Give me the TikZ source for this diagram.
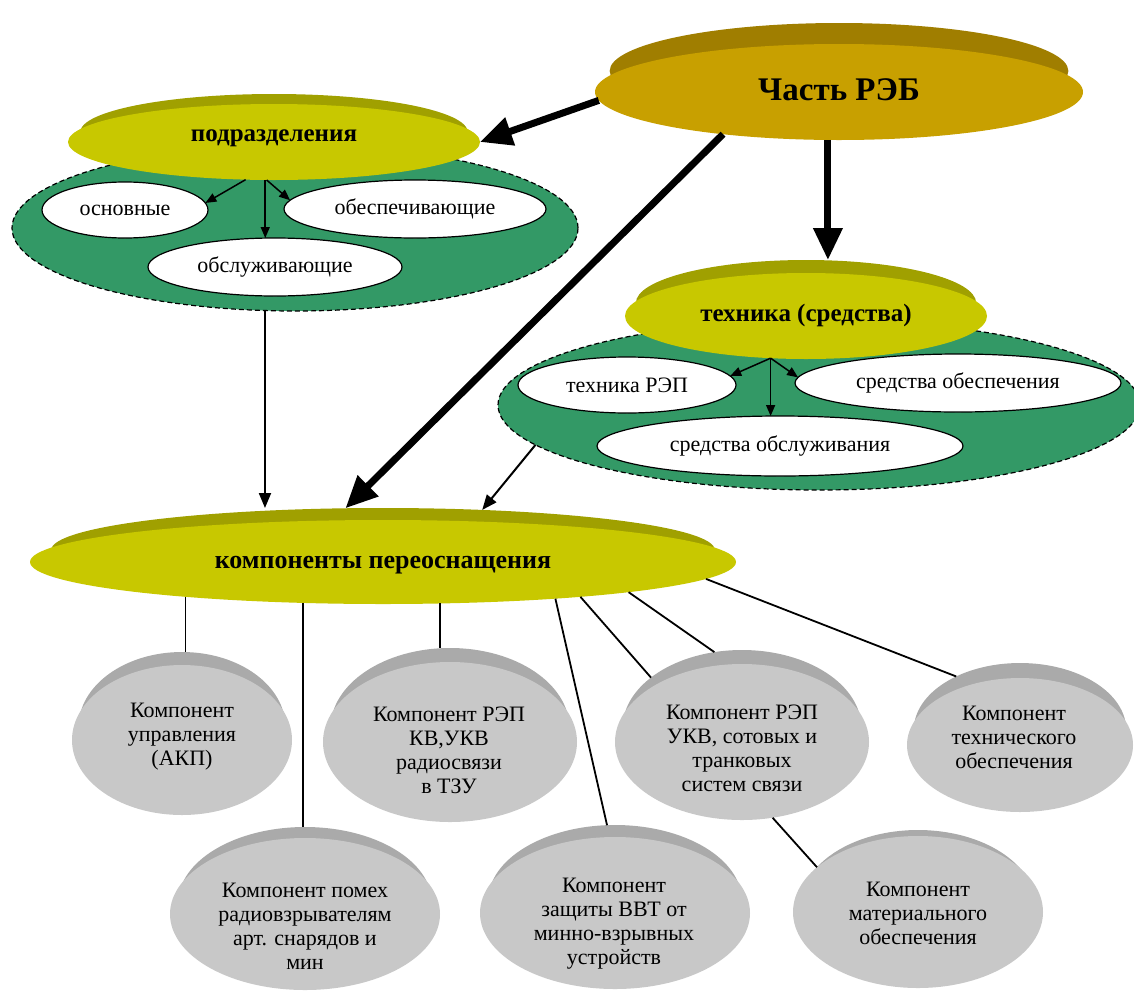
\documentclass[tikz,border=0pt]{standalone}
\usepackage{fontspec}
\setmainfont{Liberation Serif}
\usetikzlibrary{shapes.geometric,arrows.meta}
\definecolor{gold}{RGB}{200,160,0}
\definecolor{golddark}{RGB}{160,126,0}
\definecolor{ylw}{RGB}{200,200,0}
\definecolor{ylwdark}{RGB}{160,160,0}
\definecolor{grn}{RGB}{51,153,102}
\definecolor{gry}{RGB}{200,200,200}
\definecolor{grydark}{RGB}{170,170,170}
\tikzset{
 ell/.style={ellipse, inner sep=0pt, outer sep=0pt},
 whiteell/.style={ell, draw=black, line width=1.2pt, fill=white, font=\fontsize{22}{26}\selectfont},
 greenell/.style={ell, draw=black, dashed, dash pattern=on 5pt off 3pt, line width=1.2pt, fill=grn},
 bigtxt/.style={font=\fontsize{33}{40}\selectfont\bfseries},
 midtxt/.style={font=\fontsize{25}{30}\selectfont\bfseries},
 komptxt/.style={font=\fontsize{26}{30}\selectfont\bfseries},
 grytxt/.style={font=\fontsize{22}{24}\selectfont, align=center, inner sep=0pt},
 bigarrow/.style={line width=7pt, -{Triangle[length=32pt,width=28pt]}},
 thinarrow/.style={line width=2pt, -{Triangle[length=15pt,width=12pt]}},
 innerarrow/.style={line width=1.5pt, -{Triangle[length=11pt,width=9pt]}},
 link/.style={line width=1.8pt},
}
% #1 name, #2 x, #3 y, #4 rx, #5 ry, #6 cap top, #7 light colour, #8 dark colour
\newcommand\bevdisc[8]{%
  \node[ell, fill=#8, minimum width={1.88*#4pt}, minimum height={2*#5pt}] (#1cap) at (#2,#6+#5) {};
  \node[ell, fill=#7, minimum width={2*#4pt}, minimum height={2*#5pt}] (#1) at (#2,#3) {};
}
\begin{document}
\begin{tikzpicture}[x=1pt,y=-1pt]
\useasboundingbox (0,0) rectangle (1134,996);

% group 1
\node[greenell, minimum width=566pt, minimum height=166pt] (g1) at (295,228) {};
\bevdisc{pod}{274}{142}{206}{38}{94}{ylw}{ylwdark}
\node[midtxt] (podt) at (274,138) {подразделения};
\node[whiteell, minimum width=166pt, minimum height=56pt] (osn) at (125,210) {основные};
\node[whiteell, minimum width=262pt, minimum height=58pt] (obesp) at (415,209) {обеспечивающие};
\node[whiteell, minimum width=254pt, minimum height=58pt] (obsl) at (275,267) {обслуживающие};
\draw[innerarrow] (pod.233) -- (osn.5);
\draw[innerarrow] (pod.259) -- (obesp.176);
\draw[innerarrow] (pod.257) -- (pod.257 |- obsl.north);

% group 2
\node[greenell, minimum width=642pt, minimum height=170pt] (g2) at (819,405) {};
\bevdisc{tech}{806}{316}{181}{43}{260}{ylw}{ylwdark}
\node[midtxt] (techt) at (806,315) {техника (средства)};
\node[whiteell, minimum width=218pt, minimum height=56pt] (techREP) at (627,385) {техника РЭП};
\node[whiteell, minimum width=326pt, minimum height=58pt] (sredObesp) at (958,383) {средства обеспечения};
\node[whiteell, minimum width=366pt, minimum height=60pt] (sredObsl) at (780,446) {средства обслуживания};
\draw[innerarrow] (tech.230) -- (techREP.5);
\draw[innerarrow] (tech.230) -- (sredObesp.178);
\draw[innerarrow] (tech.230) -- (tech.230 |- sredObsl.north);

% top
\bevdisc{reb}{839}{92}{244}{48}{23}{gold}{golddark}
\node[bigtxt] (rebt) at (839,90) {Часть РЭБ};

% components
\bevdisc{komp}{383}{562}{353}{42}{508}{ylw}{ylwdark}
\node[komptxt] (kompt) at (383,565) {компоненты переоснащения};

% main arrows
\draw[bigarrow] (reb.182) -- (pod.east);
\draw[bigarrow] (reb.200) -- (kompcap.132);
\draw[bigarrow] (reb.257) -- (reb.257 |- techcap.north);
\draw[thinarrow] (g1.250) -- (g1.250 |- kompcap.north);
\draw[thinarrow] (g2.188.5) -- (kompcap.22.5);

% gray discs
\bevdisc{c1}{182}{740}{110}{75}{652}{gry}{grydark}
\node[grytxt] (c1t) at (182,737) {Компонент\\управления\\(АКП)};
\bevdisc{c2}{450}{742}{127}{80}{648}{gry}{grydark}
\node[grytxt] (c2t) at (449,750) {Компонент РЭП\\КВ,УКВ\\радиосвязи\\в ТЗУ};
\bevdisc{c3}{742}{742}{127}{78}{650}{gry}{grydark}
\node[grytxt] (c3t) at (742,748) {Компонент РЭП\\УКВ, сотовых и\\транковых\\систем связи};
\bevdisc{c4}{1020}{745}{113}{67}{663}{gry}{grydark}
\node[grytxt] (c4t) at (1014,737) {Компонент\\технического\\обеспечения};
\bevdisc{c5}{305}{914}{135}{76}{827}{gry}{grydark}
\node[grytxt] (c5t) at (305,926) {Компонент помех\\радиовзрывателям\\арт. снарядов и\\мин};
\bevdisc{c6}{615}{913}{135}{76}{825}{gry}{grydark}
\node[grytxt] (c6t) at (614,924) {Компонент\\защиты ВВТ от\\минно-взрывных\\устройств};
\bevdisc{c7}{918}{912}{125}{76}{830}{gry}{grydark}
\node[grytxt] (c7t) at (918,913) {Компонент\\материального\\обеспечения};

% links
\draw[link] (komp.190) -- (komp.190 |- c1cap.north);
\draw[link] (komp.207.7) -- (komp.207.7 |- c5cap.north);
\draw[link] (komp.324) -- (komp.324 |- c2cap.north);
\draw[link] (komp.348.4) -- (c6cap.96);
\draw[link] (komp.350.3) -- (c3cap.151);
\draw[link] (komp.353.3) -- (c3cap.110);
\draw[link] (komp.357.9) -- (c4cap.140);
\draw[link] (c3.292) -- (c7cap.159);
\end{tikzpicture}
\end{document}
